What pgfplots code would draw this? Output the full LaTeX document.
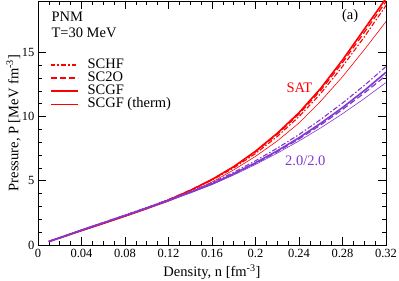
\documentclass[border=0pt]{standalone}
\usepackage{fontspec}
\setmainfont{Liberation Serif}
\usepackage{pgfplots}
\pgfplotsset{compat=1.18}
\definecolor{sat}{RGB}{255,0,0}
\definecolor{pur}{RGB}{128,56,208}
\begin{document}
\begin{tikzpicture}
\begin{axis}[name=ax,
  scale only axis, width=348pt, height=244pt,
  xmin=0, xmax=0.32, ymin=0, ymax=19,
  xtick={0,0.04,0.08,0.12,0.16,0.2,0.24,0.28,0.32},
  xticklabels={0,0.04,0.08,0.12,0.16,0.2,0.24,0.28,0.32},
  minor x tick num=3,
  ytick={0,5,10,15}, minor y tick num=4,
  tick align=inside, major tick length=8pt, minor tick length=4pt,
  tick style={black, line width=0.6pt},
  axis line style={line width=0.8pt},
  /pgf/number format/assume math mode=true,
  tick label style={font=\fontsize{12.5}{14}\selectfont},
  xticklabel style={yshift=-1pt},
  label style={font=\fontsize{14.5}{16}\selectfont},
  xlabel={Density, n [fm\textsuperscript{-3}]},
  ylabel={Pressure, P [MeV fm\textsuperscript{-3}]},
  xlabel style={at={(axis description cs:0.5,-0.131)}, anchor=base},
  ylabel style={at={(axis description cs:-0.040,0.5)}, anchor=south},
  clip=true,
  legend style={at={(axis description cs:0.0345,0.762)}, anchor=north west,
    draw=none, fill=none, inner sep=0pt, outer sep=0pt,
    font=\fontsize{14.5}{16}\selectfont, row sep=0pt, column sep=9pt,
    nodes={inner sep=0pt, text height=9.5pt, text depth=3.5pt, anchor=base west},
    legend image code/.code={\draw[#1] (0pt,3.5pt) -- (27pt,3.5pt);}},
  legend cell align=left,
]
\addlegendimage{sat, line width=1.2pt, dash pattern=on 4.5pt off 2pt on 2pt off 2pt}
\addlegendentry{SCHF}
\addlegendimage{sat, line width=1.2pt, dash pattern=on 6pt off 3pt}
\addlegendentry{SC2O}
\addlegendimage{sat, line width=1.6pt}
\addlegendentry{SCGF}
\addlegendimage{sat, line width=0.6pt}
\addlegendentry{SCGF (therm)}
% red SAT
\addplot[sat, line width=1.1pt, dash pattern=on 5pt off 2pt on 1.5pt off 2pt, forget plot] coordinates {
(0.01,0.27)(0.02,0.55)(0.04,1.13)(0.06,1.7)(0.08,2.28)(0.10,2.88)(0.12,3.52)(0.14,4.24)(0.16,5.05)(0.18,6.0)(0.20,7.12)(0.22,8.45)(0.24,10.0)(0.26,11.8)(0.28,13.9)(0.30,16.2)(0.32,18.65)};
\addplot[sat, line width=1.2pt, dash pattern=on 6pt off 3pt, forget plot] coordinates {
(0.01,0.27)(0.02,0.55)(0.04,1.13)(0.06,1.7)(0.08,2.28)(0.10,2.88)(0.12,3.53)(0.14,4.27)(0.16,5.1)(0.18,6.08)(0.20,7.25)(0.22,8.62)(0.24,10.2)(0.26,12.05)(0.28,14.2)(0.30,16.55)(0.32,18.95)};
\addplot[sat, line width=1.6pt, forget plot] coordinates {
(0.01,0.27)(0.02,0.55)(0.04,1.12)(0.06,1.68)(0.08,2.25)(0.10,2.85)(0.12,3.5)(0.14,4.25)(0.16,5.1)(0.18,6.1)(0.20,7.3)(0.22,8.7)(0.24,10.3)(0.26,12.2)(0.28,14.4)(0.30,16.8)(0.32,19.2)};
\addplot[sat, line width=0.6pt, forget plot] coordinates {
(0.01,0.27)(0.02,0.55)(0.04,1.11)(0.06,1.66)(0.08,2.22)(0.10,2.8)(0.12,3.4)(0.14,4.1)(0.16,4.9)(0.18,5.85)(0.20,6.9)(0.22,8.1)(0.24,9.5)(0.26,11.2)(0.28,13.1)(0.30,15.2)(0.32,17.4)};
% purple 2.0/2.0
\addplot[pur, line width=1.1pt, dash pattern=on 5pt off 2pt on 1.5pt off 2pt, forget plot] coordinates {
(0.01,0.28)(0.02,0.57)(0.04,1.17)(0.06,1.75)(0.08,2.33)(0.10,2.92)(0.12,3.53)(0.14,4.17)(0.16,4.86)(0.18,5.66)(0.20,6.56)(0.22,7.54)(0.24,8.6)(0.26,9.78)(0.28,11.05)(0.30,12.42)(0.32,13.9)};
\addplot[pur, line width=1.2pt, dash pattern=on 6pt off 3pt, forget plot] coordinates {
(0.01,0.28)(0.02,0.57)(0.04,1.16)(0.06,1.73)(0.08,2.3)(0.10,2.88)(0.12,3.48)(0.14,4.1)(0.16,4.76)(0.18,5.52)(0.20,6.35)(0.22,7.26)(0.24,8.25)(0.26,9.35)(0.28,10.55)(0.30,11.83)(0.32,13.2)};
\addplot[pur, line width=1.6pt, forget plot] coordinates {
(0.01,0.28)(0.02,0.57)(0.04,1.16)(0.06,1.73)(0.08,2.3)(0.10,2.88)(0.12,3.48)(0.14,4.1)(0.16,4.76)(0.18,5.55)(0.20,6.4)(0.22,7.33)(0.24,8.35)(0.26,9.48)(0.28,10.7)(0.30,12.02)(0.32,13.45)};
\addplot[pur, line width=0.6pt, forget plot] coordinates {
(0.01,0.28)(0.02,0.56)(0.04,1.15)(0.06,1.72)(0.08,2.28)(0.10,2.85)(0.12,3.44)(0.14,4.05)(0.16,4.7)(0.18,5.45)(0.20,6.27)(0.22,7.15)(0.24,8.1)(0.26,9.12)(0.28,10.22)(0.30,11.4)(0.32,12.65)};
\node[anchor=base west, font=\fontsize{14.5}{16}\selectfont] at (axis description cs:0.0287,0.918) {PNM};
\node[anchor=base west, font=\fontsize{14.5}{16}\selectfont] at (axis description cs:0.0287,0.8496) {T=30 MeV};
\node[anchor=base east, font=\fontsize{14.5}{16}\selectfont] at (axis description cs:0.930,0.924) {(a)};
\node[anchor=base west, font=\fontsize{14.5}{16}\selectfont, text=sat] at (axis description cs:0.704,0.623) {SAT};
\node[anchor=base west, font=\fontsize{14.5}{16}\selectfont, text=pur] at (axis description cs:0.700,0.324) {2.0/2.0};
\end{axis}
\pgfresetboundingbox
\path ([xshift=-38pt,yshift=-36pt]ax.south west) rectangle ([xshift=13pt,yshift=1pt]ax.north east);
\end{tikzpicture}
\end{document}
